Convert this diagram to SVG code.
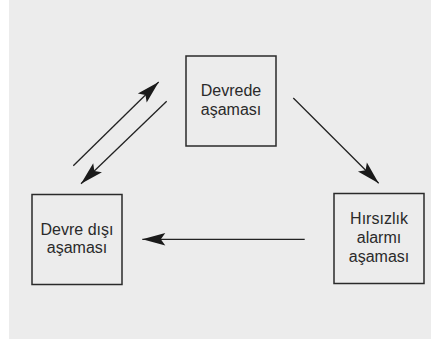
<svg xmlns="http://www.w3.org/2000/svg" width="431" height="342" viewBox="0 0 431 342">
<style>
.box{fill:none;stroke:#2a2a2a;stroke-width:1.5}
.lbl{font-family:"Liberation Sans",Arial,sans-serif;font-size:16px;fill:#2a2a2a;text-anchor:middle}
.con{stroke:#222;stroke-width:1.3;fill:none;marker-end:url(#ah)}
</style>
<defs>
<marker id="ah" markerUnits="userSpaceOnUse" viewBox="-24 -7 25 14" markerWidth="25" markerHeight="14" refX="0" refY="0" orient="auto">
<path d="M0,0 L-23,-6.3 L-18.5,0 L-23,6.3 Z" fill="#1a1a1a"/>
</marker>
</defs>
<rect x="9" y="0" width="422" height="339" fill="#ececec"/>
<g id="devrede">
<rect class="box" x="186" y="56" width="90" height="90"/>
<text class="lbl" x="231" y="96">Devrede</text>
<text class="lbl" x="231" y="114.5">aşaması</text>
</g>
<g id="devre-disi">
<rect class="box" x="32" y="194.5" width="90" height="90"/>
<text class="lbl" x="77" y="234.5">Devre dışı</text>
<text class="lbl" x="77" y="253">aşaması</text>
</g>
<g id="hirsizlik">
<rect class="box" x="334" y="193.5" width="90" height="90"/>
<text class="lbl" x="379" y="224">Hırsızlık</text>
<text class="lbl" x="379" y="243">alarmı</text>
<text class="lbl" x="379" y="261.5">aşaması</text>
</g>
<g id="connectors">
<line class="con" x1="73.3" y1="165.7" x2="158.7" y2="82"/>
<line class="con" x1="166.7" y1="101.3" x2="81" y2="183.7"/>
<line class="con" x1="293.3" y1="98" x2="378.7" y2="183.3"/>
<line class="con" x1="304.7" y1="239.3" x2="142.3" y2="239.3"/>
</g>
</svg>
